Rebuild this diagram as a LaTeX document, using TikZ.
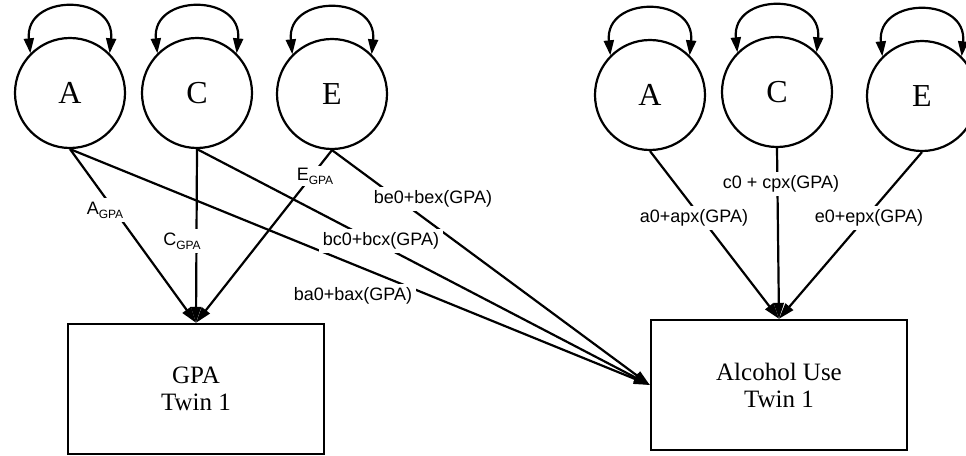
\documentclass[tikz,border=0pt]{standalone}
\usepackage{fontspec}
\setmainfont{Liberation Serif}
\newfontfamily\labfont{Liberation Sans}
\usetikzlibrary{arrows.meta}
\tikzset{
  lat/.style={circle, draw, line width=2.2pt, minimum size=110pt, inner sep=0pt, font=\fontsize{32}{34}\selectfont},
  obs/.style={draw, line width=2.4pt, minimum width=256pt, minimum height=130pt, inner sep=0pt, align=center, font=\fontsize{25}{27}\selectfont},
  path/.style={line width=2.2pt, -{Triangle[length=16pt,width=10pt]}},
  loop/.style={line width=2.2pt, {Triangle[length=15pt,width=10pt]}-{Triangle[length=15pt,width=10pt]}},
  lab/.style={fill=white, inner sep=4pt, font=\labfont\fontsize{18}{20}\selectfont}
}
\newcommand{\sbs}[1]{\raisebox{-4pt}{\fontsize{12}{13}\selectfont #1}}
\begin{document}
\begin{tikzpicture}[x=1pt,y=-1pt]
\useasboundingbox (0,0) rectangle (966,455);
% latent variables, left
\node[lat] (A1) at (70,93) {A};
\node[lat] (C1) at (197,93) {C};
\node[lat] (E1) at (332,94) {E};
% latent variables, right
\node[lat] (A2) at (650,95) {A};
\node[lat] (C2) at (777,92) {C};
\node[lat] (E2) at (922,96) {E};
% observed
\node[obs] (GPA) at (196,389) {GPA\\Twin 1};
\node[obs] (ALC) at (779,385) {Alcohol Use\\Twin 1};
% self loops
\foreach \n in {A1,C1,E1,A2,C2,E2}{
  \draw[loop] (\n.135) .. controls +(-6,-60) and +(6,-60) .. (\n.45);
}
% paths to GPA
\draw[path] (A1.south) -- (GPA.north);
\draw[path] (C1.south) -- (GPA.north);
\draw[path] (E1.south) -- (GPA.north);
% paths to alcohol from left
\draw[path] (A1.south) -- (ALC.west);
\draw[path] (C1.south) -- (ALC.west);
\draw[path] (E1.south) -- (ALC.west);
% paths to alcohol from right
\draw[path] (A2.south) -- (ALC.north);
\draw[path] (C2.south) -- (ALC.north);
\draw[path] (E2.south) -- (ALC.north);
% labels
\node[lab] (lAg) at (105,210) {A\sbs{GPA}};
\node[lab] (lCg) at (182,241) {C\sbs{GPA}};
\node[lab, inner sep=2pt] (lEg) at (315,176) {E\sbs{GPA}};
\node[lab] (lbe) at (433,199) {be0+bex(GPA)};
\node[lab] (lbc) at (381,241) {bc0+bcx(GPA)};
\node[lab] (lba) at (353,296) {ba0+bax(GPA)};
\node[lab] (lc) at (781,184) {c0 + cpx(GPA)};
\node[lab] (la) at (694,218) {a0+apx(GPA)};
\node[lab] (le) at (869,218) {e0+epx(GPA)};
\end{tikzpicture}
\end{document}
